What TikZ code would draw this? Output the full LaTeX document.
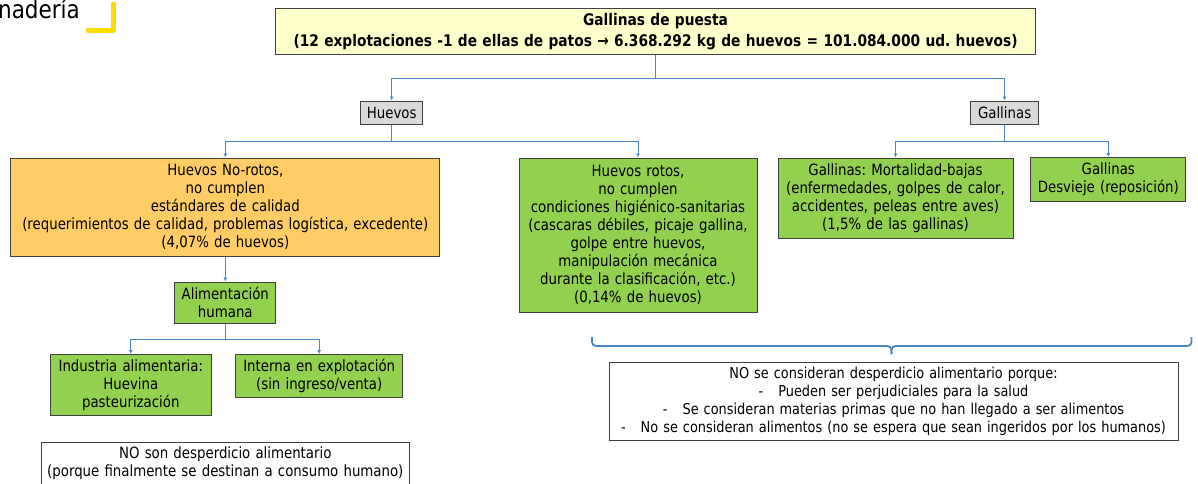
\documentclass[tikz,border=0pt]{standalone}
\usepackage{fontspec}
\setmainfont{DejaVu Sans}[FakeStretch=0.86]
\usepackage{tikz}
\usetikzlibrary{positioning}
\usetikzlibrary{arrows.meta}
\definecolor{titleyellow}{HTML}{FFFFCC}
\definecolor{boxgrey}{HTML}{D9D9D9}
\definecolor{boxorange}{HTML}{FFCC66}
\definecolor{boxgreen}{HTML}{92D050}
\definecolor{linkblue}{HTML}{4A86C5}
\definecolor{markyellow}{HTML}{F7DE00}
\tikzset{base node/.style={draw=black!75,line width=1pt,align=center,inner xsep=0pt,inner ysep=2pt,font=\fontsize{15.5}{18}\selectfont},
  title node/.style={base node,fill=titleyellow,font=\bfseries\fontsize{16}{21}\selectfont},
  grey node/.style={base node,fill=boxgrey},
  orange node/.style={base node,fill=boxorange},
  green node/.style={base node,fill=boxgreen},
  note node/.style={base node,fill=white},
  link/.style={draw=linkblue,line width=0.9pt,-{Latex[length=4pt,width=4pt]}},}
\frenchspacing

\begin{document}
\begin{tikzpicture}[x=1pt,y=-1pt]
    \useasboundingbox (0,0) rectangle (1198,483);

    \node[anchor=base east,inner sep=0pt,font=\fontsize{25}{28}\selectfont] (marca) at (80,18.5) {nadería};
    \draw[markyellow,line width=5pt,line cap=round,line join=round] (88,30) -- (113,30) -- (113,4);

    \node[title node,text width=760pt,minimum height=46pt] (puesta) at (655.5,31.3)
        {Gallinas de puesta\\(12 explotaciones -1 de ellas de patos → 6.368.292 kg de huevos = 101.084.000 ud. huevos)};
    \node[grey node,text width=62.5pt,minimum height=23pt] (huevos) at (391.7,112.5) {Huevos};
    \node[grey node,text width=68pt,minimum height=23pt] (gallinas) at (1004.6,112.5) {Gallinas};

    \node[orange node,text width=429pt,minimum height=98pt] (norotos) at (225.3,207)
        {Huevos No-rotos,\\no cumplen\\estándares de calidad\\(requerimientos de calidad, problemas logística, excedente)\\(4,07\% de huevos)};
    \node[green node,text width=238pt,minimum height=154pt] (rotos) at (638,235)
        {Huevos rotos,\\no cumplen\\condiciones higiénico-sanitarias\\(cascaras débiles, picaje gallina,\\golpe entre huevos,\\manipulación mecánica\\durante la clasificación, etc.)\\(0,14\% de huevos)};
    \node[green node,text width=235pt,minimum height=80pt] (mortalidad) at (895.5,198)
        {Gallinas: Mortalidad-bajas\\(enfermedades, golpes de calor,\\accidentes, peleas entre aves)\\(1,5\% de las gallinas)};
    \node[green node,text width=155pt,minimum height=44pt] (desvieje) at (1108.3,179.5)
        {Gallinas\\Desvieje (reposición)};

    \node[green node,text width=101pt,minimum height=41pt] (alimentacion) [below=25pt of norotos] {Alimentación\\humana};
    \node[green node,text width=160.5pt,minimum height=61pt,anchor=north] (industria) at (130.8,354)
        {Industria alimentaria:\\Huevina\\pasteurización};
    \node[green node,text width=167pt,minimum height=43pt,anchor=north] (interna) at (319.2,354)
        {Interna en explotación\\(sin ingreso/venta)};

    \node[note node,text width=368.5pt,minimum height=42pt,anchor=north] (nota1) at (225.3,442)
        {NO son desperdicio alimentario\\(porque finalmente se destinan a consumo humano)};
    \node[note node,text width=569pt,minimum height=78pt,font=\fontsize{15}{18}\selectfont] (nota2) at (893.5,401)
        {NO se consideran desperdicio alimentario porque:\\-\hspace{1em}Pueden ser perjudiciales para la salud\\-\hspace{1em}Se consideran materias primas que no han llegado a ser alimentos\\-\hspace{1em}No se consideran alimentos (no se espera que sean ingeridos por los humanos)};

    % connectors
    \draw[link] (puesta.south) -- ++(0,23.5) -| (huevos.north);
    \draw[link] (puesta.south) -- ++(0,23.5) -| (gallinas.north);
    \draw[link] (huevos.south) -- ++(0,17) -| (norotos.north);
    \draw[link] (huevos.south) -- ++(0,17) -| (rotos.north);
    \draw[link] (gallinas.south) -- ++(0,17) -| (mortalidad.north);
    \draw[link] (gallinas.south) -- ++(0,17) -| (desvieje.north);
    \draw[link] (norotos.south) -- (alimentacion.north);
    \draw[link] (alimentacion.south) -- ++(0,16) -| (industria.north);
    \draw[link] (alimentacion.south) -- ++(0,16) -| (interna.north);

    % brace over the last note
    \coordinate (brace left) at (592,337);
    \coordinate (brace right) at (1191.5,337);
    \coordinate (brace tip) at (891.5,354);
    \draw[linkblue,line width=1.8pt,rounded corners=4pt] (brace left) |- (brace tip |- 0,346) -- (brace tip);
    \draw[linkblue,line width=1.8pt,rounded corners=4pt] (brace right) |- (brace tip |- 0,346) -- (brace tip);
\end{tikzpicture}
\end{document}
